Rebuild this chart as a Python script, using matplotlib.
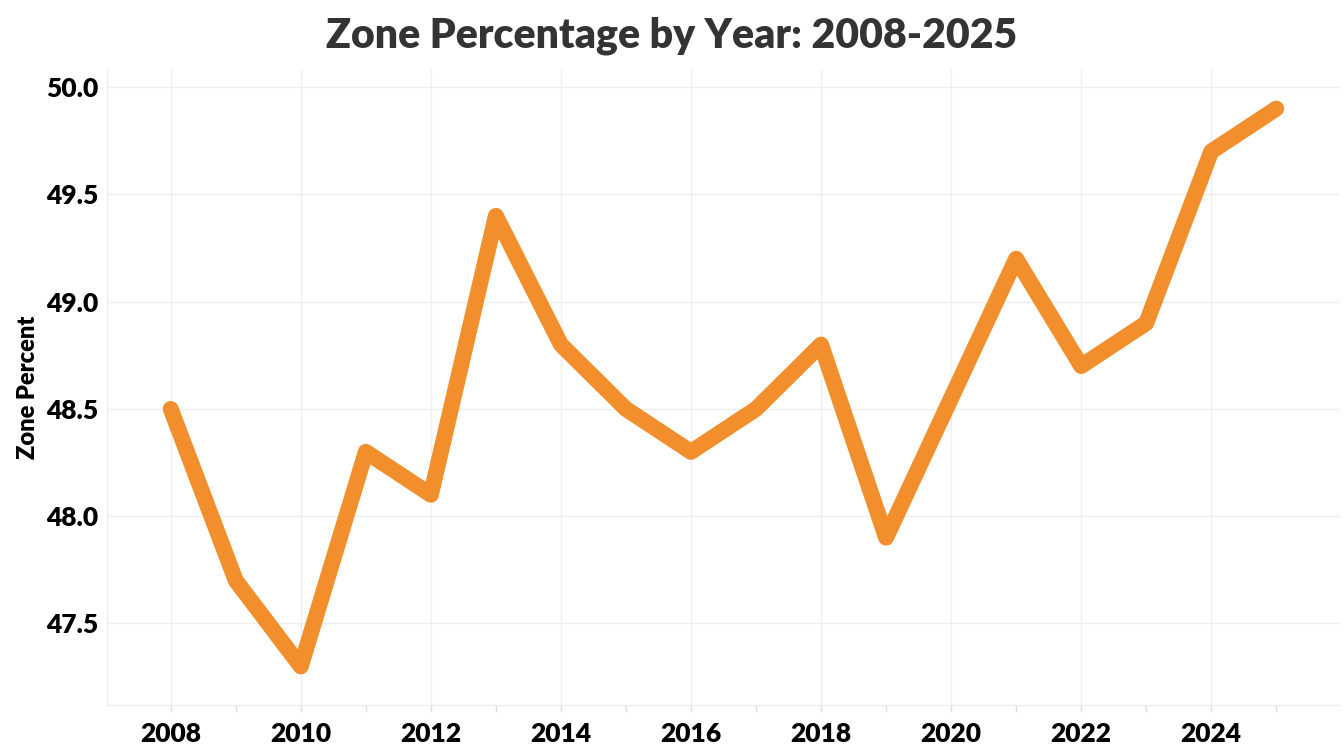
import matplotlib
matplotlib.use("Agg")
import matplotlib.pyplot as plt
from matplotlib.ticker import MultipleLocator

years = [2008, 2009, 2010, 2011, 2012, 2013, 2014, 2015, 2016, 2017,
         2018, 2019, 2020, 2021, 2022, 2023, 2024, 2025]
zone_pct = [48.5, 47.7, 47.3, 48.3, 48.1, 49.4, 48.8, 48.5, 48.3, 48.5,
            48.8, 47.9, 48.55, 49.2, 48.7, 48.9, 49.7, 49.9]

plt.rcParams['font.family'] = ['Lato', 'DejaVu Sans']

fig = plt.figure(figsize=(13.43, 7.55), dpi=100)
ax = fig.add_axes([107/1343, 50/755, (1340-107)/1343, (705-70)/755])

ax.plot(years, zone_pct, color='#F28E2B', linewidth=11.5,
        solid_capstyle='round', solid_joinstyle='round', zorder=3)

ax.set_xlim(2007.02, 2025.98)
ax.set_ylim(47.12, 50.08)
ax.xaxis.set_major_locator(MultipleLocator(2))
ax.xaxis.set_minor_locator(MultipleLocator(1))
ax.yaxis.set_major_locator(MultipleLocator(0.5))
ax.yaxis.set_major_formatter(matplotlib.ticker.FormatStrFormatter('%.1f'))

ax.grid(True, which='major', color='#EEEEEE', linewidth=1, zorder=0)
for s in ['top', 'right']:
    ax.spines[s].set_visible(False)
for s in ['left', 'bottom']:
    ax.spines[s].set_color('#EEEEEE')
    ax.spines[s].set_linewidth(1)

ax.tick_params(axis='x', which='both', colors='#DDDDDD', length=5, width=1,
               labelcolor='black', labelsize=19, pad=7)
ax.tick_params(axis='y', length=0, labelcolor='black', labelsize=19, pad=6)
for lab in ax.get_xticklabels() + ax.get_yticklabels():
    lab.set_fontweight('heavy')

ax.set_ylabel('Zone Percent', fontsize=17, fontweight='heavy', labelpad=5)
fig.suptitle('Zone Percentage by Year: 2008-2025', fontsize=29.5,
             fontweight='heavy', color='#333333', y=0.978, x=0.5)

fig.savefig('out.png', dpi=100)
